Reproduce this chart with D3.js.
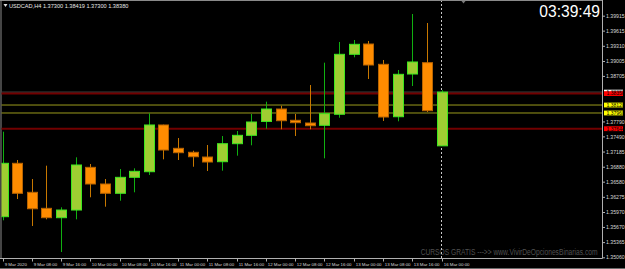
<!DOCTYPE html>
<html>
<head>
<meta charset="utf-8">
<script src="https://cdn.jsdelivr.net/npm/d3@7"></script>
<style>
  html, body { margin: 0; padding: 0; background: #000; }
  #chart { width: 625px; height: 269px; }
  text { font-family: "Liberation Sans", Arial, sans-serif; }
</style>
</head>
<body>
<div id="chart"></div>
<script>
// USDCAD H4 bars, 9 Mar 2020 00:00 .. 16 Mar 2020 00:00
const opens  = [1.35876, 1.36949, 1.36366, 1.36044, 1.35856, 1.36010, 1.36868, 1.36533, 1.36346, 1.36667,
                1.36780, 1.37719, 1.37250, 1.37170, 1.37075, 1.36981, 1.37343, 1.37511, 1.37790, 1.38040,
                1.37813, 1.37759, 1.37712, 1.37934, 1.39139, 1.39346, 1.38938, 1.37885, 1.38743, 1.38971,
                1.37300];
const highs  = [1.37584, 1.37015, 1.36633, 1.36901, 1.36065, 1.37069, 1.36935, 1.36633, 1.36834, 1.36848,
                1.37954, 1.37725, 1.37457, 1.37202, 1.37317, 1.37497, 1.37598, 1.37940, 1.38187, 1.38106,
                1.37940, 1.38522, 1.38971, 1.39387, 1.39427, 1.39407, 1.39025, 1.38824, 1.39949, 1.39768,
                1.38419];
const lows   = [1.35803, 1.36231, 1.35689, 1.35823, 1.35166, 1.35823, 1.36266, 1.36077, 1.36197, 1.36366,
                1.36714, 1.37029, 1.37015, 1.36880, 1.36794, 1.36800, 1.37102, 1.37311, 1.37644, 1.37632,
                1.37497, 1.37632, 1.37049, 1.37865, 1.39079, 1.38643, 1.37799, 1.37793, 1.38502, 1.37980,
                1.37300];
const closes = [1.36949, 1.36346, 1.36036, 1.35856, 1.36010, 1.36915, 1.36533, 1.36346, 1.36667, 1.36788,
                1.37719, 1.37216, 1.37162, 1.37081, 1.36975, 1.37343, 1.37511, 1.37779, 1.38040, 1.37805,
                1.37765, 1.37704, 1.37946, 1.39139, 1.39340, 1.38924, 1.37879, 1.38737, 1.38985, 1.38006,
                1.38380];

// time axis labels, one every second bar
const timeLabels = ['9 Mar 2020', '9 Mar 08:00', '9 Mar 16:00', '10 Mar 00:00', '10 Mar 08:00', '10 Mar 16:00',
                    '11 Mar 00:00', '11 Mar 08:00', '11 Mar 16:00', '12 Mar 00:00', '12 Mar 08:00', '12 Mar 16:00',
                    '13 Mar 00:00', '13 Mar 08:00', '13 Mar 16:00', '16 Mar 00:00'];

const priceTicks = [1.39915, 1.39615, 1.39310, 1.39005, 1.38705, 1.37790, 1.37490, 1.37185, 1.36880,
                    1.36580, 1.36275, 1.35970, 1.35670, 1.35365, 1.35060];

// horizontal levels drawn on the chart
const levelPrices = [1.38350, 1.38120, 1.37960, 1.37644];
const levelKinds  = ['red', 'yellow', 'yellow', 'red'];
const bidPrice = 1.38380;

const header = 'USDCAD,H4  1.37300 1.38419 1.37300 1.38380';
const clock = '03:39:49';
const watermark = 'CURSOS GRATIS --->> www.VivirDeOpcionesBinarias.com';

const W = 625, H = 269;
const plotRight = 602.5, plotBottom = 258.5;

const svg = d3.select('#chart').append('svg')
  .attr('width', W).attr('height', H)
  .style('display', 'block')
  .style('background', '#000');

const x = d3.scaleLinear().domain([0, opens.length - 1]).range([2.5, 441.5]);
const y = d3.scaleLinear().domain([1.35060, 1.39915]).range([257.3, 15.7]);

const bars = opens.map((o, i) => ({ i, o, h: highs[i], l: lows[i], c: closes[i] }));

// clip area
svg.append('clipPath').attr('id', 'plot')
  .append('rect').attr('x', 1.5).attr('y', 1).attr('width', plotRight - 1.5).attr('height', plotBottom - 1);

// borders
svg.append('line').attr('x1', 0).attr('x2', plotRight).attr('y1', 0.5).attr('y2', 0.5).attr('stroke', '#8a8a8a');
svg.append('line').attr('x1', 1).attr('x2', 1).attr('y1', 0).attr('y2', plotBottom).attr('stroke', '#8a8a8a');
svg.append('line').attr('x1', 0).attr('x2', W).attr('y1', 268.5).attr('y2', 268.5).attr('stroke', '#6a6a6a');

// watermark, squeezed horizontally to the reference width
const wm = svg.append('g');
const wmText = wm.append('text')
  .attr('x', 0).attr('y', 0)
  .attr('text-anchor', 'end')
  .attr('font-size', '8.6px')
  .attr('fill', '#505050')
  .text(watermark);
const wmLen = wmText.node().getComputedTextLength() || 177;
wm.attr('transform', `translate(597.5,254.5) scale(${177 / wmLen},1)`);

const plot = svg.append('g').attr('clip-path', 'url(#plot)');

// level lines
plot.append('line')
  .attr('x1', 0).attr('x2', plotRight)
  .attr('y1', y(bidPrice)).attr('y2', y(bidPrice))
  .attr('stroke', '#4a4a4a').attr('stroke-width', 1);

levelPrices.forEach((p, k) => {
  const red = levelKinds[k] === 'red';
  plot.append('line')
    .attr('x1', 0).attr('x2', plotRight)
    .attr('y1', y(p)).attr('y2', y(p))
    .attr('stroke', red ? '#720000' : '#9a9a1c')
    .attr('stroke-width', red ? 2 : 1);
});

// period separator
plot.append('line')
  .attr('x1', x(30)).attr('x2', x(30))
  .attr('y1', 0).attr('y2', plotBottom)
  .attr('stroke', '#c8c8c8').attr('stroke-dasharray', '2,2');

// candles
const bw = 11;
const g = plot.append('g');
const cand = g.selectAll('g.bar').data(bars).enter().append('g').attr('class', 'bar');

cand.append('line')
  .attr('x1', d => Math.round(x(d.i)) + 0.5).attr('x2', d => Math.round(x(d.i)) + 0.5)
  .attr('y1', d => y(d.h)).attr('y2', d => y(d.l))
  .attr('stroke', d => d.c >= d.o ? '#10b010' : '#c87800')
  .attr('stroke-width', 1);

cand.append('rect')
  .attr('x', d => Math.round(x(d.i)) - bw / 2 + 1)
  .attr('width', bw - 1)
  .attr('y', d => y(Math.max(d.o, d.c)))
  .attr('height', d => Math.max(1.5, Math.abs(y(d.o) - y(d.c))))
  .attr('fill', d => d.c >= d.o ? '#9fcd32' : '#ff8c00')
  .attr('stroke', d => d.c >= d.o ? '#3ee61e' : '#b86400')
  .attr('stroke-width', 1);

// header text
svg.append('path').attr('d', 'M3.5,4 L7.5,4 L5.5,7 Z').attr('fill', '#e0e0e0');
svg.append('text')
  .attr('x', 9).attr('y', 8)
  .attr('font-size', '5.6px')
  .attr('fill', '#e8e8e8')
  .text(header);

// shift marker
svg.append('path').attr('d', 'M461.5,1 L465.5,1 L463.5,3.5 Z').attr('fill', '#777');

// clock
svg.append('text')
  .attr('x', 600).attr('y', 17)
  .attr('text-anchor', 'end')
  .attr('font-size', '15.6px')
  .attr('fill', '#fff')
  .text(clock);

// price axis
svg.append('line').attr('x1', plotRight).attr('x2', plotRight).attr('y1', 0).attr('y2', plotBottom).attr('stroke', '#b0b0b0');
const yAxis = svg.append('g').attr('transform', `translate(${plotRight},0)`)
  .call(d3.axisRight(y).tickValues(priceTicks).tickSize(2.5).tickPadding(1).tickFormat(d3.format('.5f')));
yAxis.select('.domain').remove();
yAxis.selectAll('line').attr('stroke', '#b0b0b0');
yAxis.selectAll('text').attr('fill', '#d8d8d8').attr('font-size', '5.2px')
  .attr('font-family', '"Liberation Sans", Arial, sans-serif');

// level labels on price axis
const labels = [{ p: bidPrice, bg: '#ffffff', fg: '#000' }].concat(
  levelPrices.map((p, k) => ({ p, bg: levelKinds[k] === 'red' ? '#ff0000' : '#ffff00', fg: '#000' })));
const lg = svg.selectAll('g.lvl').data(labels).enter().append('g')
  .attr('class', 'lvl')
  .attr('transform', d => `translate(${plotRight + 1.5},${y(d.p)})`);
lg.append('rect').attr('x', 0).attr('y', -2.4).attr('width', 19).attr('height', 4.8).attr('fill', d => d.bg);
lg.append('text').attr('x', 2.5).attr('y', 1.8)
  .attr('font-size', '5px').attr('fill', d => d.fg)
  .text(d => d3.format('.5f')(d.p));

// time axis
svg.append('line').attr('x1', 0).attr('x2', plotRight).attr('y1', plotBottom).attr('y2', plotBottom).attr('stroke', '#b0b0b0');
const xt = svg.selectAll('g.xt').data(timeLabels).enter().append('g')
  .attr('class', 'xt')
  .attr('transform', (d, k) => `translate(${Math.round(x(k * 2)) + 0.5},${plotBottom})`);
xt.append('line').attr('y1', 0).attr('y2', 3).attr('stroke', '#b0b0b0');
xt.append('text').attr('x', 1.2).attr('y', 7)
  .attr('font-size', '4.4px').attr('fill', '#d8d8d8')
  .text(d => d);
</script>
</body>
</html>
